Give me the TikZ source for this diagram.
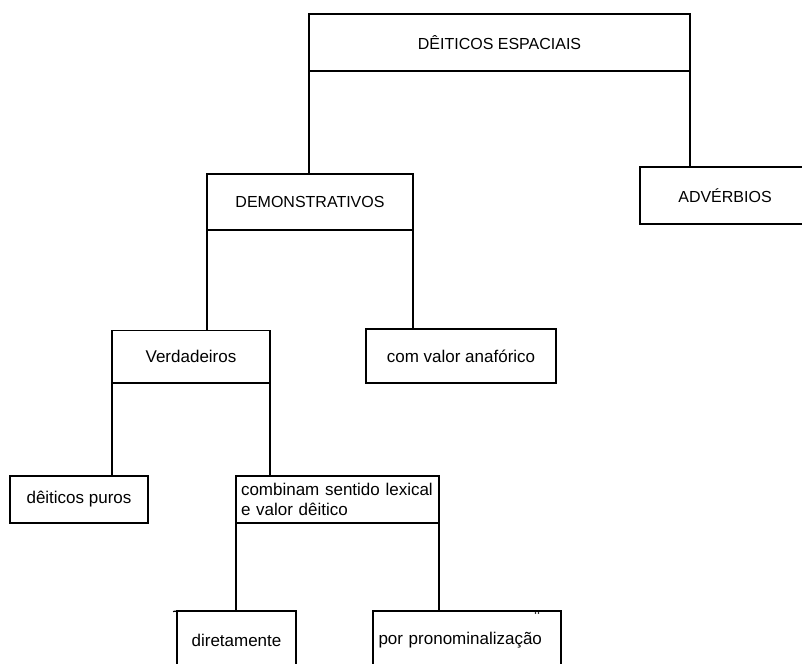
\documentclass[tikz,border=0pt]{standalone}
\usepackage{fontspec}
\setmainfont{Liberation Sans}
\begin{document}
\begin{tikzpicture}[x=1pt,y=-1pt,
  box/.style={draw, line width=1.2pt, rectangle, inner sep=0pt, outer sep=0pt, anchor=north west, align=center},
  caps/.style={font=\fontsize{16}{19}\selectfont},
  low/.style={font=\fontsize{17}{19.5}\selectfont},
  link/.style={line width=1.2pt}]
\useasboundingbox (0,0) rectangle (802,663);
\clip (0,0) rectangle (802,663);
\node[box,caps,minimum width=381,minimum height=57] (dei) at (309,14) {DÊITICOS ESPACIAIS};
\node[box,caps,minimum width=206,minimum height=56] (demo) at (207,174) {DEMONSTRATIVOS};
\node[box,caps,minimum width=170,minimum height=57] (adv) at (640,167) {ADVÉRBIOS};
\node[box,low,minimum width=158,minimum height=52.5] (verd) at (112,330.5) {Verdadeiros};
\node[box,low,minimum width=190,minimum height=54] (anaf) at (366,329) {com valor anafórico};
\node[box,low,minimum width=138,minimum height=47] (puros) at (10,476) {dêiticos puros};
\node[box,low,minimum width=203,minimum height=47,inner xsep=5pt,text width=193pt,align=left] (comb) at (236,476) {combinam sentido lexical\\e valor dêitico};
\node[box,low,minimum width=119,minimum height=58] (dir) at (177,611) {diretamente};
\node[box,low,minimum width=188,minimum height=58,inner xsep=5.5pt,text width=177pt,align=left] (pron) at (373,611) {por pronominalização};
\draw[link] (dei.south west) -- (dei.south west |- demo.north);
\draw[link] (dei.south east) -- (dei.south east |- adv.north);
\draw[link] (demo.south west) -- (demo.south west |- verd.north);
\draw[link] (demo.south east) -- (demo.south east |- anaf.north);
\draw[link] (verd.south west) -- (verd.south west |- puros.north);
\draw[link] (verd.south east) -- (verd.south east |- comb.north);
\draw[link] (comb.south west) -- (comb.south west |- dir.north);
\draw[link] (comb.south east) -- (comb.south east |- pron.north);
\coordinate (tick) at (173,611.5);
\draw[link] (tick) -- (dir.north west);
\fill (535.5,613) circle (0.8);
\fill (538.5,613) circle (0.8);
\end{tikzpicture}
\end{document}
